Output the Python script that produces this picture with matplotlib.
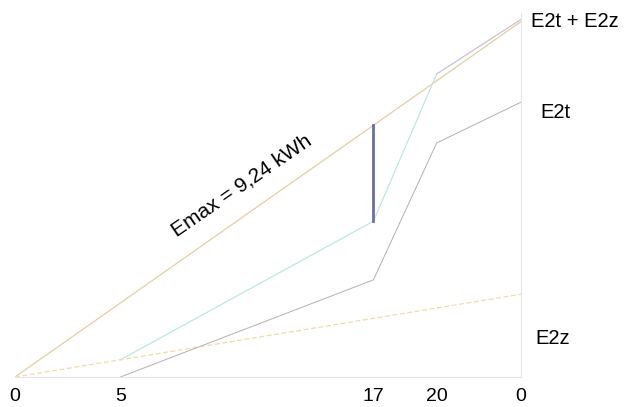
import numpy as np
import matplotlib.pyplot as plt

plt.rcParams['font.family'] = ['Liberation Sans', 'DejaVu Sans']

# heures et énergies (kWh)
hours_ticks = [0, 5, 17, 20, 24]
tick_labels = ['0', '5', '17', '20', '0']

e2z_h = [0, 24]
e2z_val = [0.0, 7.5]

e2t_h = [5, 17, 20, 24]
e2t_val = [0.0, 8.8, 21.2, 24.9]

emax_h = [0, 24]
emax_val = [0.0, 32.2]

# E2t + E2z
sum_h = np.array(e2t_h)
sum_val = np.array(e2t_val) + np.interp(sum_h, e2z_h, e2z_val)

fig = plt.figure(figsize=(6.29, 4.07), dpi=100)
ax = fig.add_axes([0.0238, 0.0737, 0.8045, 0.895])

ax.plot(emax_h, emax_val, color='#e4cfa4', lw=0.9)
ax.plot(e2z_h, e2z_val, color='#ecdcae', lw=0.9, ls=(0, (4, 2)))
ax.plot(e2t_h, e2t_val, color='#b9adb2', lw=0.7)
ax.plot(sum_h[:3], sum_val[:3], color='#bfe6e6', lw=0.9)
ax.plot(sum_h[2:], sum_val[2:], color='#c8c2d6', lw=0.9)

# écart à 17 h
e17 = np.interp(17, emax_h, emax_val)
s17 = sum_val[1]
ax.plot([17, 17], [s17, e17], color='#6b6bb0', lw=2)

ax.set_xlim(0, 24)
ax.set_ylim(0, 33)
ax.set_xticks(hours_ticks)
ax.set_xticklabels(tick_labels, fontsize=14)
ax.tick_params(axis='x', length=0, pad=8)
ax.set_yticks([])
for s in ['top', 'left']:
    ax.spines[s].set_visible(False)
for s in ['bottom', 'right']:
    ax.spines[s].set_color('#e6e6e6')
    ax.spines[s].set_linewidth(0.8)

ax.text(24.48, 32.2, 'E2t + E2z', fontsize=14.5, va='center', ha='left', clip_on=False)
ax.text(24.9, 24.0, 'E2t', fontsize=14.5, va='center', ha='left', clip_on=False)
ax.text(24.7, 3.5, 'E2z', fontsize=14.5, va='center', ha='left', clip_on=False)

ax.text(10.9, 16.9, 'Emax = 9,24 kWh', fontsize=15, rotation=34.5,
        rotation_mode='anchor', ha='center', va='baseline')

fig.savefig('out.png', dpi=100)
